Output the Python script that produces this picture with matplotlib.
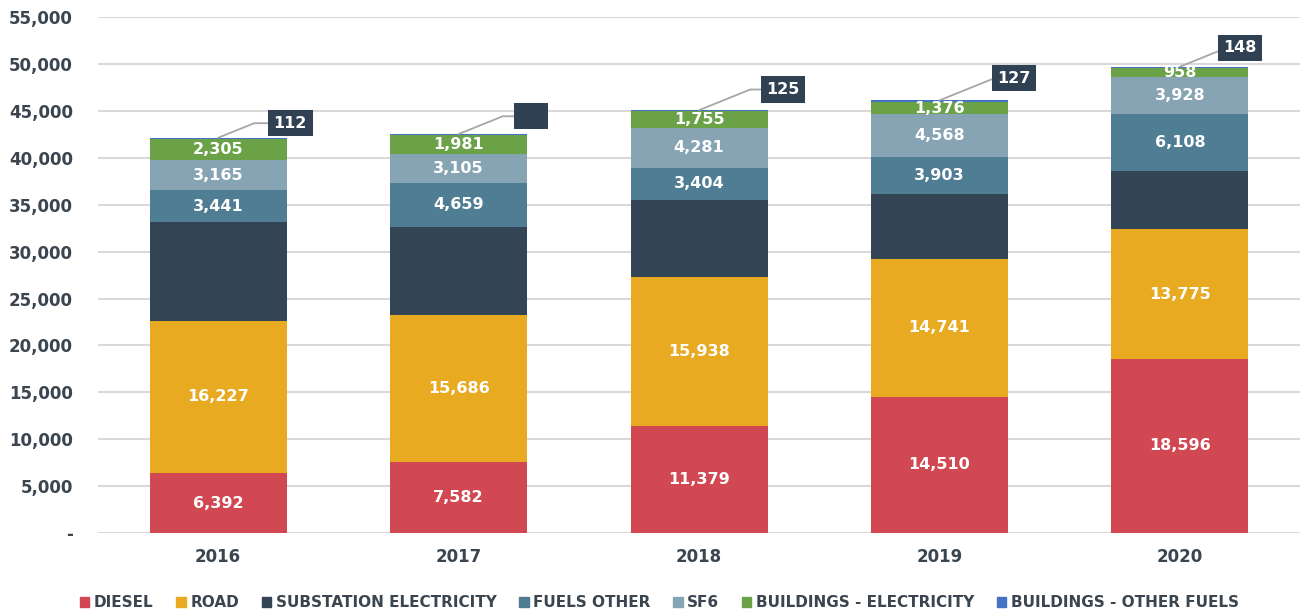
import matplotlib
matplotlib.use('Agg')
import matplotlib.pyplot as plt
import numpy as np
from matplotlib.patches import Patch

plt.rcParams['font.family'] = ['DejaVu Sans']

years = ['2016', '2017', '2018', '2019', '2020']
series_names = ['DIESEL', 'ROAD', 'SUBSTATION ELECTRICITY', 'FUELS OTHER', 'SF6',
                'BUILDINGS - ELECTRICITY', 'BUILDINGS - OTHER FUELS']
colors = ['#D14752', '#E8AA20', '#334455', '#4F7D93', '#87A4B5', '#6BA248', '#4472C4']

diesel = [6392, 7582, 11379, 14510, 18596]
road = [16227, 15686, 15938, 14741, 13775]
substation = [10500, 9400, 8200, 6900, 6200]   # not labelled in the source
fuels_other = [3441, 4659, 3404, 3903, 6108]
sf6 = [3165, 3105, 4281, 4568, 3928]
buildings_elec = [2305, 1981, 1755, 1376, 958]
buildings_other = [112, 120, 125, 127, 148]
callout_text = ['112', '', '125', '127', '148']   # 2017 box is blank in the source

series = [diesel, road, substation, fuels_other, sf6, buildings_elec, buildings_other]
labelled = [True, True, False, True, True, True, False]

fig = plt.figure(figsize=(13.01, 6.12), dpi=100)
ax = fig.add_axes([0.0753, 0.129, 0.924, 0.843])

x = np.arange(len(years))
width = 0.57
bottom = np.zeros(len(years))
for vals, col, name, lab in zip(series, colors, series_names, labelled):
    vals = np.array(vals, dtype=float)
    ax.bar(x, vals, width, bottom=bottom, color=col, label=name, zorder=3)
    if lab:
        for xi, v, b in zip(x, vals, bottom):
            ax.text(xi, b + v / 2, f'{int(v):,}', ha='center', va='center',
                    color='white', fontsize=11.5, fontweight='bold', zorder=4)
    bottom += vals

# callout boxes for buildings - other fuels
offsets_x = [0.30, 0.30, 0.35, 0.31, 0.25]
offsets_y = [1550, 1900, 2200, 2350, 2000]
for xi, top, txt, ox, oy in zip(x, bottom, callout_text, offsets_x, offsets_y):
    ax.annotate(txt if txt else '    ', xy=(xi, top), xytext=(xi + ox, top + oy),
                ha='center', va='center', color='white', fontsize=11.5,
                fontweight='bold', zorder=5,
                bbox=dict(boxstyle='square,pad=0.35', fc='#2F4152', ec='none'),
                arrowprops=dict(arrowstyle='-', color='#A6A6A6', lw=1.3,
                                shrinkA=0, shrinkB=0,
                                connectionstyle='angle,angleA=0,angleB=22,rad=0'))

ax.set_xlim(-0.5, 4.5)
ax.set_ylim(0, 55000)
ax.set_yticks(np.arange(0, 55001, 5000))
ax.set_yticklabels(['-'] + [f'{v:,}' for v in range(5000, 55001, 5000)])
ax.set_xticks(x)
ax.set_xticklabels(years)
ax.grid(axis='y', color='#D9D9D9', lw=1.5, zorder=0)
ax.tick_params(length=0, labelsize=12, labelcolor='#3A4550')
ax.tick_params(axis='x', pad=11)
ax.tick_params(axis='y', pad=18)
for lbl in ax.get_xticklabels() + ax.get_yticklabels():
    lbl.set_fontweight('bold')
for s in ax.spines.values():
    s.set_visible(False)

handles = [Patch(color=c) for c in colors]
fig.legend(handles, series_names, loc='lower center', bbox_to_anchor=(0.507, -0.02),
           ncol=7, frameon=False, handlelength=0.6, handleheight=0.6,
           handletextpad=0.3, columnspacing=1.5,
           prop=dict(size=11, weight='bold'), labelcolor='#3A4550')

fig.savefig('out.png', dpi=100)
